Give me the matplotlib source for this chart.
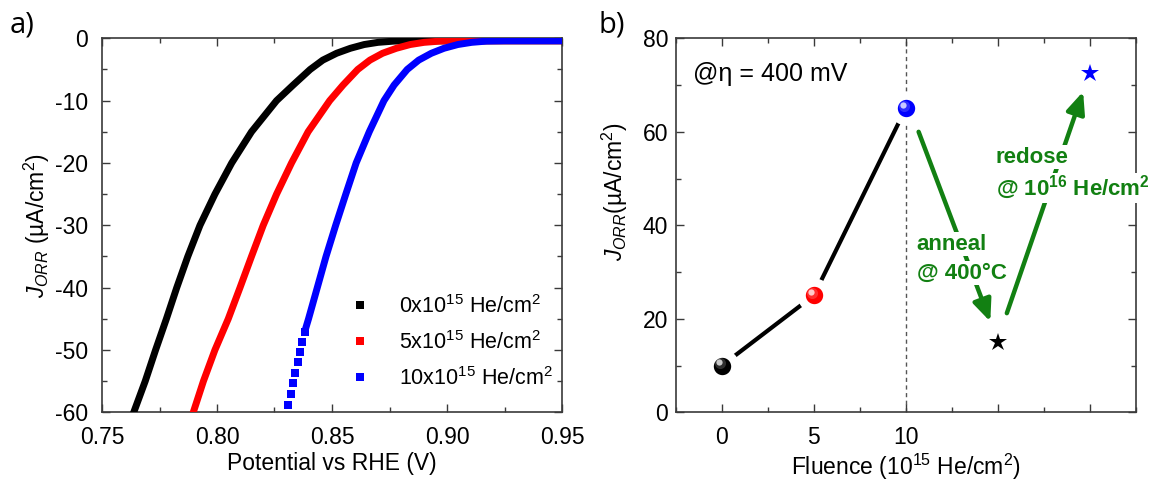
import matplotlib
matplotlib.use("Agg")
import matplotlib.pyplot as plt
from matplotlib.lines import Line2D
from matplotlib.ticker import MultipleLocator, FixedLocator
import matplotlib.transforms as mtransforms

plt.rcParams['font.family'] = ['Liberation Sans', 'DejaVu Sans']
plt.rcParams['mathtext.fontset'] = 'custom'
plt.rcParams['mathtext.rm'] = 'Liberation Sans'
plt.rcParams['mathtext.it'] = 'Liberation Sans:italic'
plt.rcParams['mathtext.bf'] = 'Liberation Sans:bold'

# ---------------- data: panel a ----------------
v_0 = [0.7628, 0.7688, 0.7733, 0.7780, 0.7825, 0.7873, 0.7926, 0.7991, 0.8064,
       0.8150, 0.8259, 0.8331, 0.8405, 0.8460, 0.8520, 0.8580, 0.8640, 0.8700,
       0.8770, 0.8850, 0.9500]
j_0 = [-61, -55, -50, -45, -40, -35, -30, -25, -20,
       -15, -10, -7.5, -5, -3.5, -2.4, -1.6, -1.0, -0.65,
       -0.45, -0.4, -0.4]

v_5 = [0.7888, 0.7941, 0.7991, 0.8049, 0.8100, 0.8150, 0.8201, 0.8259, 0.8324,
       0.8396, 0.8490, 0.8548, 0.8612, 0.8665, 0.8720, 0.8780, 0.8840, 0.8900,
       0.8970, 0.9050, 0.9500]
j_5 = [-61, -55, -50, -45, -40, -35, -30, -25, -20,
       -15, -10, -7.5, -5, -3.5, -2.4, -1.6, -1.0, -0.65,
       -0.45, -0.4, -0.4]

v_10 = [0.8296, 0.8307, 0.8320, 0.8330, 0.8340, 0.8351, 0.8361, 0.8371, 0.8381,
        0.8398, 0.8436, 0.8474, 0.8516, 0.8560, 0.8605, 0.8662, 0.8726, 0.8770,
        0.8827, 0.8877, 0.8932, 0.8987, 0.9047, 0.9107, 0.9172, 0.9250, 0.9500]
j_10 = [-60.8, -58.9, -57.0, -55.3, -53.7, -52.0, -50.3, -48.7, -47.1,
        -45, -40, -35, -30, -25, -20, -15, -10, -7.5,
        -5, -3.5, -2.4, -1.6, -1.0, -0.65, -0.45, -0.4, -0.4]

legend_labels = [r'0x10$^{15}$ He/cm$^{2}$', r'5x10$^{15}$ He/cm$^{2}$', r'10x10$^{15}$ He/cm$^{2}$']
curve_colors = ['#000000', '#ff0000', '#0000ff']

# ---------------- data: panel b ----------------
fluence = [0, 5, 10]
j_orr = [10, 25, 65]
ball_colors = ['#000000', '#ff0000', '#0000ff']
anneal_x, anneal_y = 15, 15
redose_x, redose_y = 20, 72.5
xtick_vals = [0, 5, 10, 15, 20]
xtick_labels = ['0', '5', '10', '', '']

green = '#128012'

fig = plt.figure(figsize=(11.56, 4.83), dpi=100)
W, H = 1156, 483
def ax_rect(l, r, t, b):
    return [l / W, 1 - b / H, (r - l) / W, (b - t) / H]

axa = fig.add_axes(ax_rect(102, 562, 38.3, 412.3))
axb = fig.add_axes(ax_rect(676, 1135.5, 38.3, 412.3))

for ax in (axa, axb):
    for s in ax.spines.values():
        s.set_color('#3a3a3a')
        s.set_linewidth(1.2)
    ax.tick_params(which='both', direction='in', top=True, right=True,
                   color='#3a3a3a', labelsize=16.5, width=1.0)
    ax.tick_params(which='major', length=6)
    ax.tick_params(which='minor', length=3.5)

# ---------------- panel a ----------------
lw_band = 5.0
axa.plot(v_0, j_0, '-', color=curve_colors[0], lw=lw_band, solid_capstyle='butt',
         solid_joinstyle='round', zorder=3)
axa.plot(v_5, j_5, '-', color=curve_colors[1], lw=lw_band, solid_capstyle='butt',
         solid_joinstyle='round', zorder=4)
axa.plot(v_10[8:], j_10[8:], '-', color=curve_colors[2], lw=lw_band, solid_capstyle='butt',
         solid_joinstyle='round', zorder=5)
axa.plot(v_10[:9], j_10[:9], 's', color=curve_colors[2], ms=5.4, mew=0, zorder=5)

axa.set_xlim(0.75, 0.95)
axa.set_ylim(-60, 0)
axa.xaxis.set_major_locator(MultipleLocator(0.05))
axa.xaxis.set_minor_locator(MultipleLocator(0.025))
axa.yaxis.set_major_locator(MultipleLocator(10))
axa.yaxis.set_minor_locator(MultipleLocator(5))
axa.set_xticklabels([f'{v:.2f}' for v in axa.get_xticks()])
axa.set_yticklabels([f'{int(round(v))}' for v in axa.get_yticks()])
axa.tick_params(axis='both', which='major', pad=10)
axa.set_xlabel('Potential vs RHE (V)', fontsize=16.5, labelpad=2)
axa.set_ylabel(r'$J_{ORR}$ (µA/cm$^{2}$)', fontsize=16.5)
axa.yaxis.set_label_coords(-0.108, 0.5)

handles = [Line2D([], [], marker='s', ls='none', color=c, ms=6, mew=0) for c in curve_colors]
axa.legend(handles, legend_labels, loc='lower right', bbox_to_anchor=(1.008, 0.025),
           frameon=False, fontsize=15.5, handletextpad=1.3, labelspacing=0.62,
           handlelength=1.0, borderaxespad=0.2)

# ---------------- panel b ----------------
axb.axvline(10, color='#555555', lw=1.0, ls=(0, (3, 2.5)), zorder=1)
axb.plot(fluence, j_orr, '-', color='black', lw=3.0, zorder=2)
for x, y, c in zip(fluence, j_orr, ball_colors):
    axb.plot([x], [y], 'o', color=c, ms=18.5, mec='white', mew=6, zorder=3)
    hl = mtransforms.offset_copy(axb.transData, fig=fig, x=-1.8, y=2.2, units='points')
    axb.plot([x], [y], 'o', color='white', ms=4.5, mew=0, alpha=0.75, zorder=4, transform=hl)
    hl2 = mtransforms.offset_copy(axb.transData, fig=fig, x=-1.2, y=1.5, units='points')
    axb.plot([x], [y], 'o', color='white', ms=8, mew=0, alpha=0.18, zorder=4, transform=hl2)

axb.plot([anneal_x], [anneal_y], '*', color='black', ms=13.5, mew=0, zorder=3)
axb.plot([redose_x], [redose_y], '*', color='#0000ff', ms=13.5, mew=0, zorder=3)

arrow_kw = dict(arrowstyle='-|>,head_length=0.65,head_width=0.28', color=green,
                lw=3.2, mutation_scale=20, shrinkA=0, shrinkB=0)
axb.annotate('', xy=(14.6, 19.4), xytext=(10.7, 60.0), arrowprops=arrow_kw, zorder=5)
axb.annotate('', xy=(19.65, 68.6), xytext=(15.5, 21.2), arrowprops=arrow_kw, zorder=5)

tb = dict(facecolor='white', edgecolor='none', pad=1.0)
axb.text(14.9, 54.6, 'redose', color=green, fontsize=16, fontweight='bold',
         ha='left', va='center', bbox=tb, zorder=6)
axb.text(14.9, 48.0, r'@ 10$^{\mathbf{16}}$ He/cm$^{\mathbf{2}}$', color=green, fontsize=16,
         fontweight='bold', ha='left', va='center', bbox=tb, zorder=6)
axb.text(10.6, 36.0, 'anneal', color=green, fontsize=16, fontweight='bold',
         ha='left', va='center', bbox=tb, zorder=6)
axb.text(10.6, 29.8, '@ 400°C', color=green, fontsize=16, fontweight='bold',
         ha='left', va='center', bbox=tb, zorder=6)
axb.text(-1.55, 72.4, '@η = 400 mV', color='black', fontsize=18, ha='left', va='center')

axb.set_xlim(-2.5, 22.5)
axb.set_ylim(0, 80)
axb.xaxis.set_major_locator(FixedLocator(xtick_vals))
axb.set_xticklabels(xtick_labels)
axb.xaxis.set_minor_locator(MultipleLocator(2.5))
axb.yaxis.set_major_locator(MultipleLocator(20))
axb.yaxis.set_minor_locator(MultipleLocator(10))
axb.tick_params(axis='x', which='major', pad=10)
axb.tick_params(axis='y', which='major', pad=5.5)
axb.set_xlabel(r'Fluence (10$^{15}$ He/cm$^{2}$)', fontsize=16.5, labelpad=2)
axb.set_ylabel(r'$J_{ORR}$(µA/cm$^{2}$)', fontsize=16.5)
axb.yaxis.set_label_coords(-0.101, 0.589)

fig.text(22 / W, 1 - 25 / H, 'a)', fontsize=21, family=['Open Sans', 'DejaVu Sans'],
         ha='center', va='center')
fig.text(612 / W, 1 - 25 / H, 'b)', fontsize=21, family=['Open Sans', 'DejaVu Sans'],
         ha='center', va='center')

fig.savefig('out.png', dpi=100)
